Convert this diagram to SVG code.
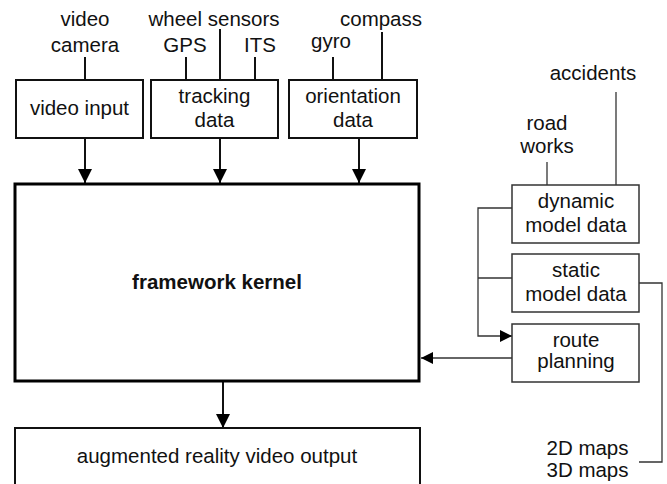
<svg xmlns="http://www.w3.org/2000/svg" width="667" height="484" viewBox="0 0 667 484">
<defs>
<style>
text{font-family:"Liberation Sans",Arial,sans-serif;font-size:20.5px;fill:#111;text-anchor:middle}
.b{font-weight:bold}
.box{fill:#fff;stroke:#111;stroke-width:2}
.rbox{fill:#fff;stroke:#333;stroke-width:1.5}
.kern{fill:#fff;stroke:#000;stroke-width:3}
.ln{fill:none;stroke:#111;stroke-width:2}
.tl{fill:none;stroke:#333;stroke-width:1.3}
</style>
<marker id="ad" viewBox="0 0 14 14" refX="14" refY="7" markerWidth="14" markerHeight="14" markerUnits="userSpaceOnUse" orient="auto"><path d="M0,0L14,7L0,14z" fill="#000"/></marker>
<marker id="as" viewBox="0 0 12 12" refX="12" refY="6" markerWidth="12" markerHeight="12" markerUnits="userSpaceOnUse" orient="auto"><path d="M0,0L12,6L0,12z" fill="#000"/></marker>
</defs>
<rect width="667" height="484" fill="#fff"/>
<g id="connectors">
<path class="ln" d="M85,57V80"/>
<path class="ln" d="M186,57V80"/>
<path class="ln" d="M220,29V80"/>
<path class="ln" d="M255,57V80"/>
<path class="ln" d="M333,57V80"/>
<path class="ln" d="M382,32V80"/>
<path class="ln" d="M85,138V183" marker-end="url(#ad)"/>
<path class="ln" d="M220,138V183" marker-end="url(#ad)"/>
<path class="ln" d="M359,138V183" marker-end="url(#ad)"/>
<path class="ln" d="M223,382V428" marker-end="url(#ad)"/>
<path class="tl" d="M547,162V185"/>
<path class="tl" d="M616,92V185"/>
<path class="tl" d="M512,208H478V336H512" marker-end="url(#as)"/>
<path class="tl" d="M478,278H512"/>
<path class="tl" d="M512,358H421" marker-end="url(#as)"/>
<path class="tl" d="M639,283H662V462H639"/>
</g>
<g id="video-camera"><text x="85" y="26">video</text><text x="85" y="52">camera</text></g>
<g id="wheel-sensors"><text x="214" y="26">wheel sensors</text></g>
<g id="gps"><text x="185" y="52">GPS</text></g>
<g id="its"><text x="260" y="52">ITS</text></g>
<g id="gyro"><text x="331" y="48">gyro</text></g>
<g id="compass"><text x="381" y="26">compass</text></g>
<g id="video-input"><rect class="box" x="16" y="80" width="127" height="58"/><text x="79.5" y="115">video input</text></g>
<g id="tracking-data"><rect class="box" x="151" y="80" width="127" height="58"/><text x="214.5" y="103">tracking</text><text x="214.5" y="127">data</text></g>
<g id="orientation-data"><rect class="box" x="289" y="80" width="128" height="58"/><text x="353" y="103">orientation</text><text x="353" y="127">data</text></g>
<g id="framework-kernel"><rect class="kern" x="15" y="184" width="404" height="197"/><text class="b" x="217" y="289">framework kernel</text></g>
<g id="ar-output"><rect class="box" x="15" y="428" width="405" height="80"/><text x="217" y="463">augmented reality video output</text></g>
<g id="accidents"><text x="593" y="80">accidents</text></g>
<g id="road-works"><text x="547" y="130">road</text><text x="547" y="153">works</text></g>
<g id="dynamic-model-data"><rect class="rbox" x="512" y="185" width="127" height="58"/><text x="576" y="208">dynamic</text><text x="576" y="232">model data</text></g>
<g id="static-model-data"><rect class="rbox" x="512" y="254" width="127" height="58"/><text x="576" y="277">static</text><text x="576" y="301">model data</text></g>
<g id="route-planning"><rect class="rbox" x="512" y="324" width="127" height="58"/><text x="576" y="347">route</text><text x="576" y="368">planning</text></g>
<g id="maps"><text x="587.5" y="455">2D maps</text><text x="587.5" y="477">3D maps</text></g>
</svg>
